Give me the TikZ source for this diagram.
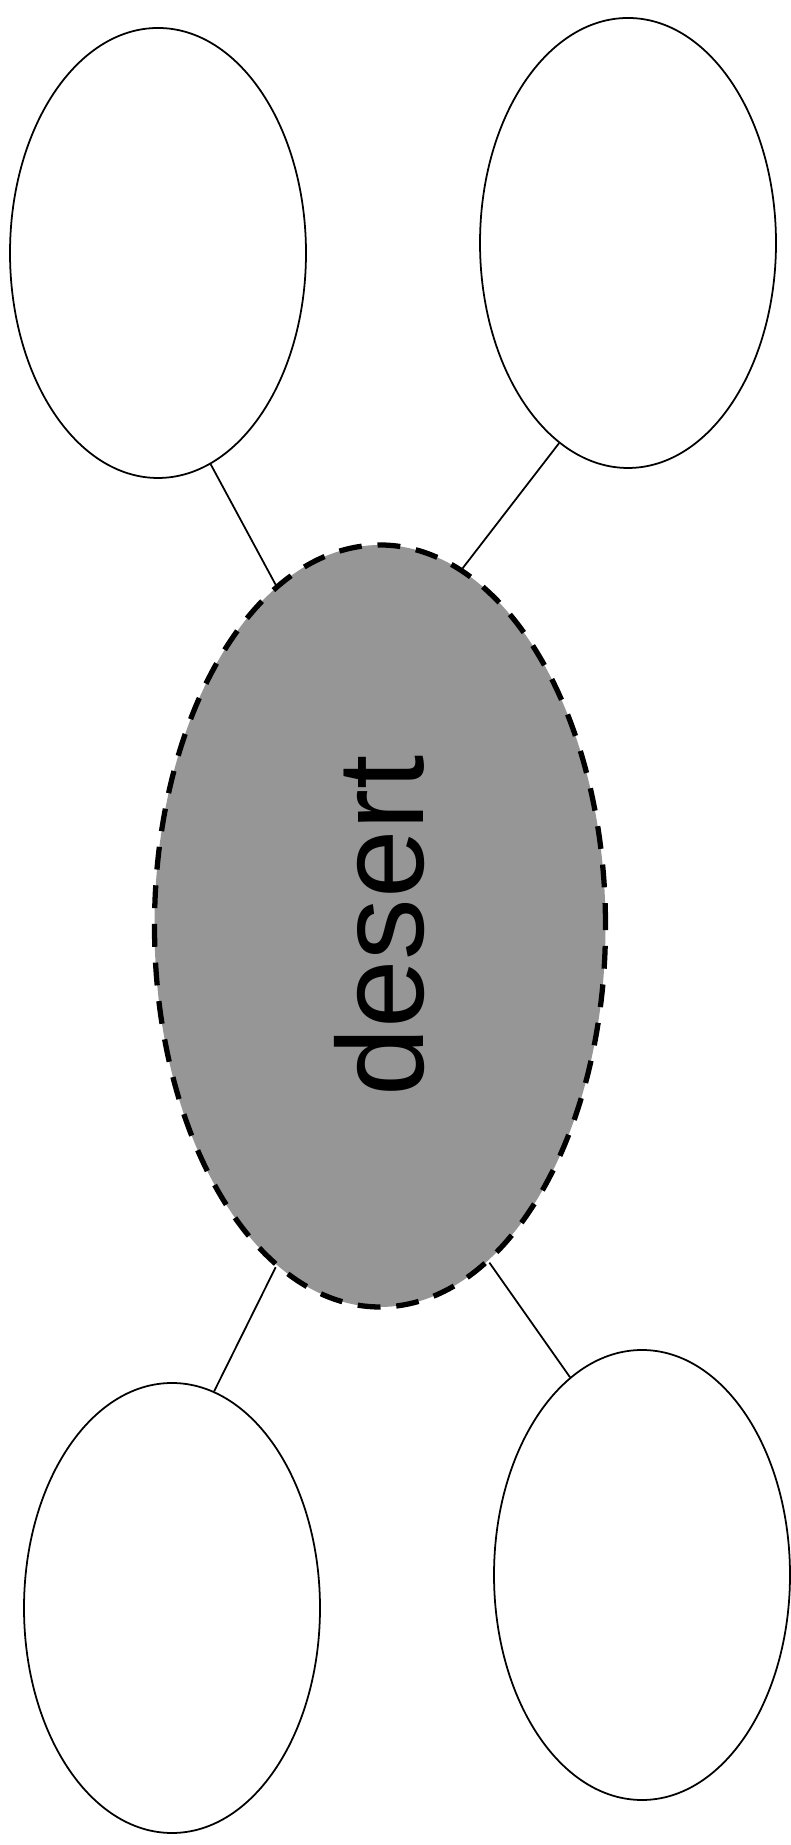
\documentclass[tikz,border=0pt]{standalone}
\usepackage{fontspec}
\setmainfont{Liberation Sans}
\usepackage{tikz}
\usetikzlibrary{shapes.geometric}
\definecolor{hubgray}{RGB}{150,150,150}
\tikzset{
  hub/.style      = {ellipse, draw=black, fill=hubgray, line width=1.5pt, dash pattern=on 6.5pt off 4.5pt, inner sep=0pt, minimum width=4.51cm, minimum height=7.62cm, font=\fontsize{35}{40}\selectfont},
  bubble/.style   = {ellipse, draw=black, fill=white, line width=0.5pt, inner sep=0pt, minimum width=2.96cm, minimum height=4.5cm},
  spoke/.style    = {draw=black, line width=0.5pt},
}

\begin{document}
\begin{tikzpicture}[x=1cm,y=1cm]
  \useasboundingbox (0,0) rectangle (7.9,18.45);

  % outer bubbles
  \node[bubble] (tl) at (1.58,15.92) {};
  \node[bubble] (tr) at (6.28,16.02) {};
  \node[bubble] (bl) at (1.72,2.37) {};
  \node[bubble] (br) at (6.42,2.70) {};

  % centre
  \node[hub] (desert) at (3.80,9.19) {\rotatebox{90}{desert}\hspace{0.3cm}};

  % spokes
  \draw[spoke] (tl.-76) -- (desert.107);
  \draw[spoke] (tr.-109) -- (desert.77);
  \draw[spoke] (bl.79) -- (desert.253);
  \draw[spoke] (br.110) -- (desert.288);
\end{tikzpicture}
\end{document}
